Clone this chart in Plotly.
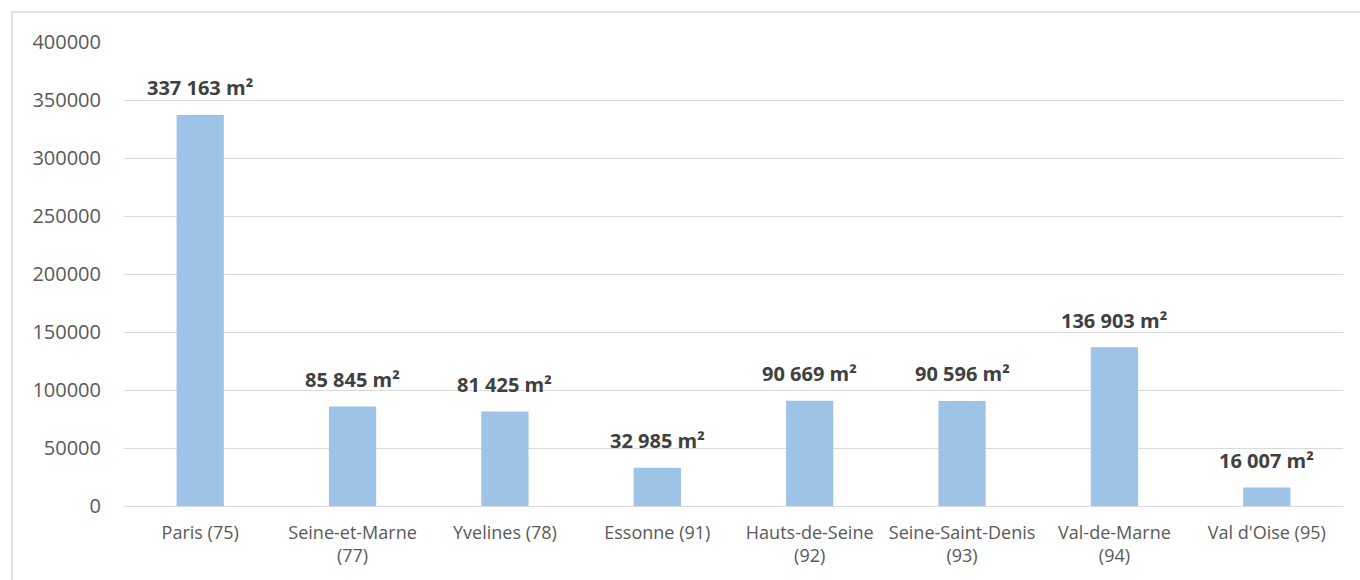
import plotly.graph_objects as go

# Surfaces par département (m²)
departements = ["Paris (75)", "Seine-et-Marne (77)", "Yvelines (78)", "Essonne (91)",
                "Hauts-de-Seine (92)", "Seine-Saint-Denis (93)", "Val-de-Marne (94)",
                "Val d'Oise (95)"]
surfaces = [337163, 85845, 81425, 32985, 90669, 90596, 136903, 16007]
tick_labels = ["Paris (75)", "Seine-et-Marne<br>(77)", "Yvelines (78)", "Essonne (91)",
               "Hauts-de-Seine<br>(92)", "Seine-Saint-Denis<br>(93)", "Val-de-Marne<br>(94)",
               "Val d'Oise (95)"]
y_ticks = [0, 50000, 100000, 150000, 200000, 250000, 300000, 350000, 400000]

W, H = 1360, 580
ML, MR, MT, MB = 124, 17, 42, 74
FONT = "Open Sans, Liberation Sans, sans-serif"


def fmt(v):
    return f"{v:,}".replace(",", " ") + " m²"


fig = go.Figure(go.Bar(
    x=departements, y=surfaces,
    marker=dict(color="#9DC3E6", line=dict(width=0)),
    hoverinfo="skip",
))

for d, v in zip(departements, surfaces):
    fig.add_annotation(x=d, y=v, text=f"<b>{fmt(v)}</b>", showarrow=False,
                       yanchor="middle", yshift=27,
                       font=dict(family=FONT, size=20, color="#404040"))

# chart frame
pw, ph = W - ML - MR, H - MT - MB
fig.add_shape(type="rect", xref="paper", yref="paper",
              x0=(12 - ML) / pw, x1=(W + 5 - ML) / pw,
              y0=-(MB + 5) / ph, y1=(H - MB - 12) / ph,
              line=dict(color="#D9D9D9", width=1.5), fillcolor="rgba(0,0,0,0)", layer="below")

fig.update_layout(
    width=W, height=H,
    margin=dict(l=ML, r=MR, t=MT, b=MB),
    paper_bgcolor="white", plot_bgcolor="white",
    bargap=0.69,
    showlegend=False,
    font=dict(family=FONT, color="#595959"),
    xaxis=dict(tickmode="array", tickvals=departements, ticktext=tick_labels,
               tickfont=dict(size=18, color="#595959"), showgrid=False,
               showline=False, ticks="", ticklen=0, ticklabelstandoff=14),
    yaxis=dict(range=[0, 400000], tickmode="array", tickvals=y_ticks,
               ticktext=[str(t) for t in y_ticks],
               tickfont=dict(size=20, color="#595959"),
               showgrid=True, gridcolor="#D9D9D9", gridwidth=1,
               zeroline=True, zerolinecolor="#D9D9D9", zerolinewidth=1,
               showline=False, ticks="", ticklabelstandoff=22),
)

fig.write_html("out.html")
